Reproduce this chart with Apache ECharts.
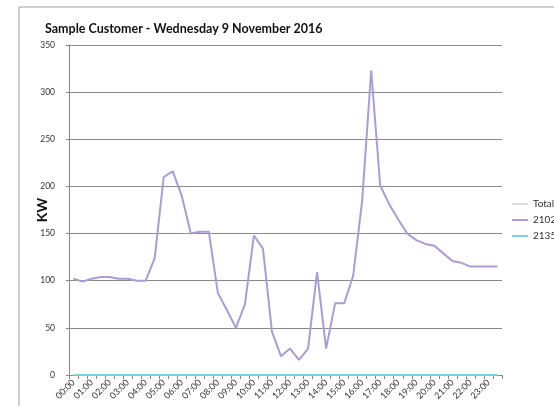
<!DOCTYPE html>
<html><head><meta charset="utf-8">
<script src="https://cdn.jsdelivr.net/npm/echarts@6/dist/echarts.min.js"></script>
<style>html,body{margin:0;padding:0;background:#fff;overflow:hidden}#c{width:554px;height:406px}</style>
</head><body><div id="c"></div>
<script>
const times = ["00:00","00:30","01:00","01:30","02:00","02:30","03:00","03:30","04:00","04:30","05:00","05:30","06:00","06:30","07:00","07:30","08:00","08:30","09:00","09:30","10:00","10:30","11:00","11:30","12:00","12:30","13:00","13:30","14:00","14:30","15:00","15:30","16:00","16:30","17:00","17:30","18:00","18:30","19:00","19:30","20:00","20:30","21:00","21:30","22:00","22:30","23:00","23:30"];
const meter1 = [102,99,102,104,104,102,102,100,100,124,210,216,190,150,152,152,87,69,50,75,148,134,46,20,28,16,28,109,28,76,76,105,185,323,201,181,165,150,143,139,137,129,121,119,115,115,115,115];
const meter2 = [0,0,0,0,0,0,0,0,0,0,0,0,0,0,0,0,0,0,0,0,0,0,0,0,0,0,0,0,0,0,0,0,0,0,0,0,0,0,0,0,0,0,0,0,0,0,0,0];
const total = [];
const seriesNames = ["Total","2102080000","2135140000"];
const yTicks = {min:0,max:350,interval:50};

const chart = echarts.init(document.getElementById('c'),null,{renderer:'canvas'});
chart.setOption({
  animation:false,
  title:{text:'Sample Customer - Wednesday 9 November 2016',left:40,top:17,
    textStyle:{fontFamily:'Lato',fontWeight:'bold',fontSize:12.5,color:'#111'}},
  graphic:[{type:'rect',shape:{x:19,y:7,width:700,height:500},style:{fill:'none',stroke:'#a0a0a0',lineWidth:1},silent:true}],
  legend:{orient:'vertical',left:512,top:199,padding:0,itemWidth:16,itemHeight:2,itemGap:6,icon:'rect',
    textStyle:{fontFamily:'Lato',fontSize:10,color:'#333',width:120,overflow:'none'},data:seriesNames},
  grid:{left:69,right:52,top:45,bottom:31},
  xAxis:{type:'category',data:times,boundaryGap:true,
    axisLine:{lineStyle:{color:'#888',width:1}},
    axisTick:{show:true,interval:0,length:4,lineStyle:{color:'#888'}},
    axisLabel:{interval:1,rotate:45,fontSize:9,color:'#333',fontFamily:'Lato',margin:6},
    splitLine:{show:false}},
  yAxis:{type:'value',min:yTicks.min,max:yTicks.max,interval:yTicks.interval,
    name:'KW',nameLocation:'middle',nameGap:20,nameRotate:90,nameMoveOverlap:false,
    nameTextStyle:{fontFamily:'Lato',fontWeight:'bold',fontSize:14,color:'#111'},
    axisLine:{show:true,lineStyle:{color:'#888'}},
    axisTick:{show:true,length:3,lineStyle:{color:'#888'}},
    axisLabel:{fontSize:8.5,color:'#333',fontFamily:'Lato',margin:14},
    splitLine:{lineStyle:{color:'#8a8a8a',width:1}}},
  series:[
    {name:seriesNames[0],type:'line',data:total,symbol:'none',lineStyle:{color:'#dcdcdc',width:1.5},itemStyle:{color:'#dcdcdc'}},
    {name:seriesNames[1],type:'line',data:meter1,symbol:'none',lineStyle:{color:'#ab9cd9',width:2},itemStyle:{color:'#ab9cd9'}},
    {name:seriesNames[2],type:'line',data:meter2,symbol:'none',lineStyle:{color:'#7ccfe8',width:2},itemStyle:{color:'#7ccfe8'}}
  ]
});
</script></body></html>
